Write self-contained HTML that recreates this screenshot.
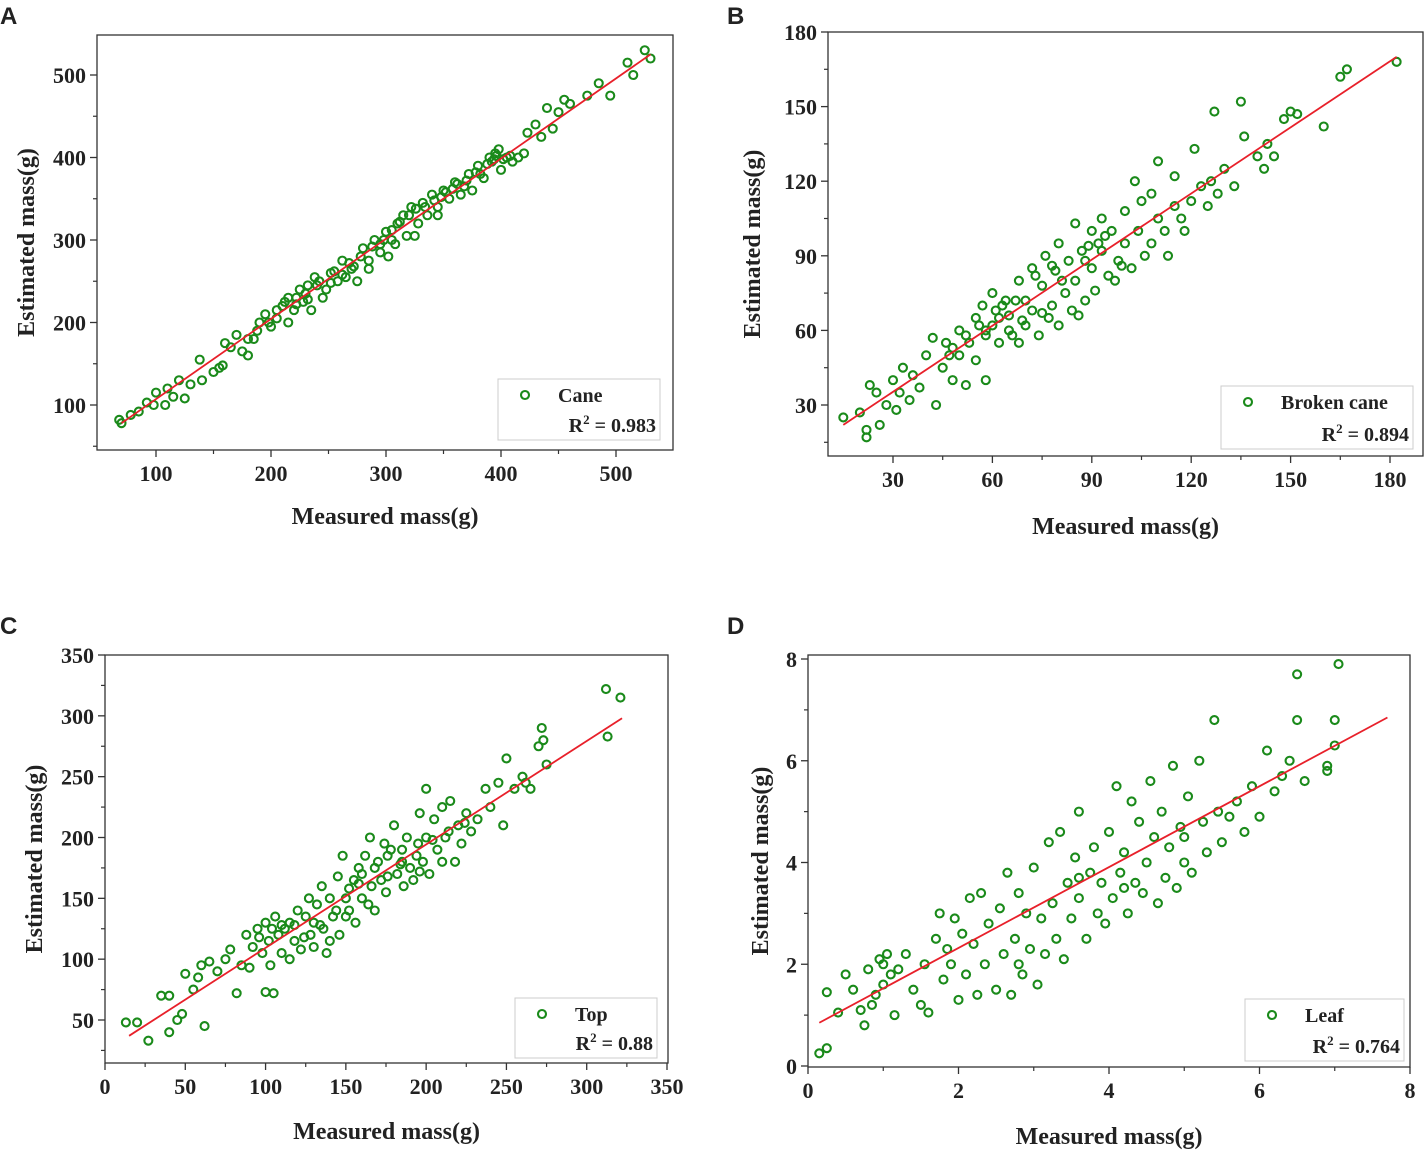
<!DOCTYPE html>
<html><head><meta charset="utf-8"><style>
body{margin:0;background:#fff;}
svg text{font-family:"Liberation Serif",serif;font-weight:bold;fill:#222;}
.lab{font-family:"Liberation Sans",sans-serif;font-size:24px;font-weight:bold;}
</style></head><body>
<svg id="chart" width="1427" height="1155" viewBox="0 0 1427 1155" xmlns="http://www.w3.org/2000/svg"></svg>
<script>
const caneData=[[68,82],[70,78],[78,88],[85,92],[92,103],[98,100],[100,115],[108,100],[110,120],[115,110],[120,130],[125,108],[130,125],[138,155],[140,130],[150,140],[158,148],[160,175],[165,170],[170,185],[175,165],[180,160],[185,180],[190,200],[195,210],[200,195],[205,205],[210,220],[215,230],[220,215],[225,240],[230,235],[235,215],[238,255],[240,245],[248,240],[252,260],[258,250],[262,275],[265,255],[270,265],[275,250],[280,290],[285,275],[290,300],[295,285],[300,310],[302,280],[308,295],[310,320],[315,330],[318,305],[322,340],[328,320],[332,345],[336,330],[340,355],[345,340],[350,360],[355,350],[360,370],[365,355],[368,365],[372,380],[375,360],[380,390],[385,375],[390,400],[392,395],[395,405],[398,410],[400,385],[405,400],[410,395],[415,400],[420,405],[423,430],[430,440],[435,425],[440,460],[445,435],[450,455],[455,470],[460,465],[475,475],[485,490],[495,475],[510,515],[515,500],[525,530],[530,520],[345,330],[325,305],[285,265],[245,230],[215,200],[180,180],[155,145],[205,215],[212,225],[222,230],[228,225],[232,245],[242,250],[255,262],[268,272],[278,280],[288,292],[298,300],[305,312],[312,322],[320,330],[326,338],[334,340],[342,348],[348,352],[352,358],[358,362],[362,368],[370,372],[378,382],[382,380],[388,392],[394,398],[396,402],[402,398],[408,402],[305,300],[295,295],[272,268],[262,258],[252,248],[232,228],[222,222],[198,200],[188,190]];
const brokenData=[[15,25],[20,27],[22,20],[22,17],[23,38],[25,35],[26,22],[28,30],[30,40],[31,28],[32,35],[33,45],[35,32],[36,42],[38,37],[40,50],[42,57],[43,30],[45,45],[46,55],[48,40],[50,50],[50,60],[52,38],[53,55],[55,65],[55,48],[57,70],[58,40],[58,58],[60,75],[60,62],[62,55],[63,70],[65,60],[65,66],[67,72],[68,55],[68,80],[70,62],[72,85],[72,68],[74,58],[75,78],[76,90],[77,65],[78,70],[79,84],[80,95],[80,62],[82,75],[83,88],[84,68],[85,103],[85,80],[87,92],[88,72],[90,100],[90,85],[91,76],[93,105],[93,92],[95,82],[96,100],[98,88],[100,95],[100,108],[102,85],[103,120],[104,100],[105,112],[106,90],[108,95],[108,115],[110,105],[110,128],[112,100],[113,90],[115,110],[115,122],[117,105],[118,100],[120,112],[121,133],[123,118],[125,110],[126,120],[127,148],[128,115],[130,125],[133,118],[135,152],[136,138],[140,130],[142,125],[143,135],[145,130],[148,145],[150,148],[152,147],[160,142],[165,162],[167,165],[182,168],[48,53],[62,65],[70,72],[75,67],[88,88],[58,60],[66,58],[92,95],[97,80],[56,62],[61,68],[64,72],[69,64],[73,82],[78,86],[81,80],[86,66],[89,94],[94,98],[99,86],[52,58],[47,50]];
const topData=[[13,48],[20,48],[27,33],[35,70],[40,70],[40,40],[45,50],[48,55],[50,88],[55,75],[58,85],[60,95],[62,45],[65,98],[70,90],[75,100],[78,108],[82,72],[85,95],[88,120],[90,93],[92,110],[95,125],[98,105],[100,130],[100,73],[102,115],[103,95],[105,72],[106,135],[108,120],[110,105],[112,125],[115,130],[118,115],[120,140],[122,108],[125,135],[127,150],[128,120],[130,110],[132,145],[135,160],[136,125],[138,105],[140,150],[142,135],[145,168],[146,120],[148,185],[150,150],[152,140],[155,165],[156,130],[158,175],[160,150],[162,185],[164,145],[165,200],[166,160],[168,140],[170,180],[172,165],[174,195],[175,155],[178,190],[180,210],[182,170],[185,180],[186,160],[188,200],[190,175],[192,165],[195,195],[196,220],[198,180],[200,240],[200,200],[202,170],[205,215],[207,190],[210,225],[212,200],[215,230],[218,180],[220,210],[222,195],[225,220],[228,205],[232,215],[237,240],[240,225],[245,245],[248,210],[250,265],[255,240],[260,250],[262,245],[265,240],[270,275],[272,290],[273,280],[275,260],[312,322],[313,283],[321,315],[115,100],[130,130],[140,115],[160,170],[185,190],[210,180],[96,118],[104,125],[118,128],[124,118],[134,128],[144,140],[152,158],[158,162],[168,175],[176,168],[184,178],[194,185],[204,198],[214,205],[224,212],[176,185],[196,172],[150,135],[110,128]];
const leafData=[[0.15,0.25],[0.25,0.35],[0.25,1.45],[0.4,1.05],[0.5,1.8],[0.6,1.5],[0.7,1.1],[0.75,0.8],[0.8,1.9],[0.85,1.2],[0.9,1.4],[0.95,2.1],[1.0,1.6],[1.05,2.2],[1.1,1.8],[1.15,1.0],[1.2,1.9],[1.3,2.2],[1.4,1.5],[1.5,1.2],[1.55,2.0],[1.6,1.05],[1.7,2.5],[1.75,3.0],[1.8,1.7],[1.85,2.3],[1.9,2.0],[1.95,2.9],[2.0,1.3],[2.05,2.6],[2.1,1.8],[2.15,3.3],[2.2,2.4],[2.25,1.4],[2.3,3.4],[2.35,2.0],[2.4,2.8],[2.5,1.5],[2.55,3.1],[2.6,2.2],[2.65,3.8],[2.7,1.4],[2.75,2.5],[2.8,3.4],[2.85,1.8],[2.9,3.0],[2.95,2.3],[3.0,3.9],[3.05,1.6],[3.1,2.9],[3.15,2.2],[3.2,4.4],[3.25,3.2],[3.3,2.5],[3.35,4.6],[3.4,2.1],[3.45,3.6],[3.5,2.9],[3.55,4.1],[3.6,3.3],[3.6,5.0],[3.7,2.5],[3.75,3.8],[3.8,4.3],[3.85,3.0],[3.9,3.6],[3.95,2.8],[4.0,4.6],[4.05,3.3],[4.1,5.5],[4.15,3.8],[4.2,4.2],[4.25,3.0],[4.3,5.2],[4.35,3.6],[4.4,4.8],[4.45,3.4],[4.5,4.0],[4.55,5.6],[4.6,4.5],[4.65,3.2],[4.7,5.0],[4.75,3.7],[4.8,4.3],[4.85,5.9],[4.9,3.5],[4.95,4.7],[5.0,4.0],[5.05,5.3],[5.1,3.8],[5.2,6.0],[5.25,4.8],[5.3,4.2],[5.4,6.8],[5.45,5.0],[5.5,4.4],[5.6,4.9],[5.7,5.2],[5.8,4.6],[5.9,5.5],[6.0,4.9],[6.1,6.2],[6.2,5.4],[6.3,5.7],[6.4,6.0],[6.5,7.7],[6.5,6.8],[6.6,5.6],[6.9,5.9],[6.9,5.8],[7.0,6.3],[7.0,6.8],[7.05,7.9],[1.0,2.0],[2.8,2.0],[3.6,3.7],[4.2,3.5],[5.0,4.5]];
const caneFit=[[70,78],[530,525]];
const brokenFit=[[15,22],[182,170]];
const topFit=[[15,37],[322,298]];
const leafFit=[[0.15,0.85],[7.7,6.85]];
const caneXTicks=[100,200,300,400,500], caneYTicks=[100,200,300,400,500];
const brokenXTicks=[30,60,90,120,150,180], brokenYTicks=[30,60,90,120,150,180];
const topXTicks=[0,50,100,150,200,250,300,350], topYTicks=[50,100,150,200,250,300,350];
const leafXTicks=[0,2,4,6,8], leafYTicks=[0,2,4,6,8];

const svg=document.getElementById('chart');
const NS='http://www.w3.org/2000/svg';
function mk(tag,at,parent){const e=document.createElementNS(NS,tag);for(const k in at)e.setAttribute(k,at[k]);(parent||svg).appendChild(e);return e;}

function panel(p){
  const g=mk('g',{});
  
  
  const sx=v=>p.px0+(v-p.x0)*(p.px1-p.px0)/(p.x1-p.x0);
  const sy=v=>p.py0+(v-p.y0)*(p.py1-p.py0)/(p.y1-p.y0);
  const box=mk('rect',{x:p.L,y:p.T,width:p.R-p.L,height:p.B-p.T,fill:'none',stroke:'#333','stroke-width':1.3},g);
  
  
  p.xt.forEach((v,i)=>{
    const x=sx(v);
    mk('line',{x1:x,y1:p.B,x2:x,y2:p.B+7,stroke:'#333','stroke-width':1.3},g);
    if(i<p.xt.length-1){const xm=sx(v+(p.xt[1]-p.xt[0])/2);mk('line',{x1:xm,y1:p.B,x2:xm,y2:p.B+4,stroke:'#333','stroke-width':1.2},g);}
    const t=mk('text',{x:x,y:p.B+31,'text-anchor':'middle','font-size':22},g);
    t.textContent=v;
    
    
  });
  p.yt.forEach((v,i)=>{
    const y=sy(v);
    mk('line',{x1:p.L-7,y1:y,x2:p.L,y2:y,stroke:'#333','stroke-width':1.3},g);
    const ym=sy(v-(p.yt[1]-p.yt[0])/2);
    if(ym<p.B)mk('line',{x1:p.L-4,y1:ym,x2:p.L,y2:ym,stroke:'#333','stroke-width':1.2},g);
    const t=mk('text',{x:p.L-11,y:y+8,'text-anchor':'end','font-size':22},g);
    t.textContent=v;
    
    
  });
  p.data.forEach(d=>{
    const c=mk('circle',{cx:sx(d[0]),cy:sy(d[1]),r:4,fill:'none',stroke:'#1a8a1a','stroke-width':2.1},g);
    
    
  });
  const fl=mk('line',{x1:sx(p.fit[0][0]),y1:sy(p.fit[0][1]),x2:sx(p.fit[1][0]),y2:sy(p.fit[1][1]),stroke:'#e8202a','stroke-width':1.8},g);
  
  
  const xt=mk('text',{x:(p.L+p.R)/2,y:p.B+p.xtOff,'text-anchor':'middle','font-size':24},g);
  xt.textContent='Measured mass(g)';
  
  
  const yx=p.ytX, yy=(p.T+p.B)/2;
  const yt=mk('text',{x:yx,y:yy,'text-anchor':'middle','font-size':24,transform:`rotate(-90 ${yx} ${yy})`},g);
  yt.textContent='Estimated mass(g)';
  
  
  const lg=mk('g',{},g);
  
  
  const [lx,ly,lw,lh]=p.leg;
  mk('rect',{x:lx,y:ly,width:lw,height:lh,fill:'#fff',stroke:'#ccc','stroke-width':1},lg);
  mk('circle',{cx:lx+27,cy:ly+16,r:4,fill:'none',stroke:'#1a8a1a','stroke-width':2.1},lg);
  const ln=mk('text',{x:lx+60,y:ly+23,'font-size':20},lg);
  ln.textContent=p.label;
  const r2=mk('text',{x:lx+lw-4,y:ly+lh-8,'text-anchor':'end','font-size':20},lg);
  r2.innerHTML='R<tspan dy="-8" font-size="13">2</tspan><tspan dy="8"> = '+p.r2+'</tspan>';
  const pl=mk('text',{x:p.letX,y:p.letY,'class':'lab'},svg);
  pl.textContent=p.letter;
  
  
}
panel({name:'panel-a-cane',letter:'A',letX:0,letY:24,L:97,R:673,T:35,B:450,x0:100,x1:500,px0:156,px1:616,y0:100,y1:500,py0:405,py1:75,xt:caneXTicks,yt:caneYTicks,data:caneData,fit:caneFit,xtOff:74,ytX:34,leg:[498,379,162,61],label:'Cane',r2:'0.983'});
panel({name:'panel-b-broken-cane',letter:'B',letX:727,letY:24,L:828,R:1423,T:32,B:456,x0:30,x1:180,px0:893,px1:1390,y0:30,y1:180,py0:405,py1:32,xt:brokenXTicks,yt:brokenYTicks,data:brokenData,fit:brokenFit,xtOff:78,ytX:760,leg:[1221,386,192,63],label:'Broken cane',r2:'0.894'});
panel({name:'panel-c-top',letter:'C',letX:0,letY:634,L:105,R:668,T:655,B:1063,x0:0,x1:350,px0:105,px1:667,y0:50,y1:350,py0:1020,py1:655,xt:topXTicks,yt:topYTicks,data:topData,fit:topFit,xtOff:76,ytX:42,leg:[515,998,142,60],label:'Top',r2:'0.88'});
panel({name:'panel-d-leaf',letter:'D',letX:727,letY:634,L:808,R:1410,T:655,B:1067,x0:0,x1:8,px0:808,px1:1410,y0:0,y1:8,py0:1066,py1:659,xt:leafXTicks,yt:leafYTicks,data:leafData,fit:leafFit,xtOff:77,ytX:768,leg:[1245,999,159,62],label:'Leaf',r2:'0.764'});
</script>
</body></html>
